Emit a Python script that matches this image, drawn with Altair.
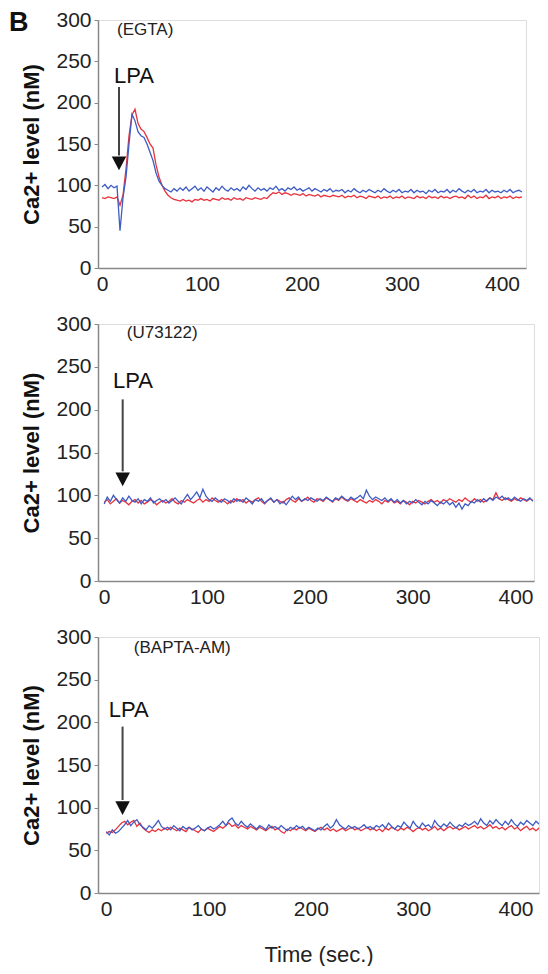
import altair as alt
import pandas as pd

STEP = 3  # seconds between samples

egta_red = [85,84,86,85,84,86,76,88,120,160,185,192,175,168,165,158,150,145,125,110,
            100,93,88,85,83,82,81,83,81,82,80,83,82,84,82,83,81,84,83,82,
            85,83,84,82,85,83,84,82,85,84,83,85,84,83,85,84,88,91,90,92,
            89,91,90,88,90,89,88,90,87,89,88,87,89,86,88,87,86,88,87,86,
            88,85,87,86,88,85,87,86,84,87,86,85,87,84,86,85,87,84,86,85,
            87,84,86,85,84,87,85,86,84,87,85,86,84,87,85,86,84,86,87,85,
            86,84,88,85,87,84,86,85,88,84,86,85,87,84,86,85,87,84,86,85,86]
egta_blue = [98,101,96,100,97,99,45,85,110,150,186,178,165,160,158,150,140,130,115,105,
             100,96,94,92,96,93,97,94,98,93,96,99,94,97,93,98,95,92,97,94,
             99,95,93,97,94,96,93,98,95,100,96,93,97,94,96,93,97,95,99,94,
             96,93,97,95,98,94,96,93,95,97,93,96,94,92,95,93,96,92,94,93,
             95,91,94,92,96,93,91,94,92,95,93,91,94,92,96,93,91,94,92,95,
             91,93,92,95,91,94,92,93,90,94,92,95,91,93,92,95,91,94,92,96,
             93,91,94,92,95,91,93,92,95,91,94,92,93,91,94,92,95,91,93,94,92]

u73_red = [92,95,90,93,96,91,94,92,89,93,
           95,91,94,90,92,95,93,89,92,94,
           91,93,96,92,90,94,92,95,93,91,
           94,96,92,95,93,97,94,92,95,93,
           90,94,92,96,93,95,91,94,92,95,
           97,93,90,94,96,92,95,93,91,95,
           97,94,92,96,93,95,98,94,92,96,
           95,93,97,95,92,96,94,98,95,93,
           96,94,92,95,93,91,94,92,95,93,
           90,94,92,95,91,93,90,94,92,89,
           93,91,94,92,90,93,95,92,94,91,
           95,93,96,94,92,95,93,97,94,92,
           96,93,95,92,94,97,95,103,96,94,
           97,95,93,96,94,97,95,93,96,94]
u73_blue = [90,98,93,100,95,91,97,93,99,94,
            92,96,90,95,93,97,91,94,96,92,
            95,91,94,97,93,90,96,101,95,99,
            104,97,107,99,95,93,97,94,92,96,
            94,91,96,93,95,92,97,94,90,95,
            93,96,91,94,97,92,95,90,93,89,
            94,99,95,98,93,96,94,97,95,93,
            96,94,98,95,93,97,95,99,96,94,
            98,95,97,100,96,106,99,95,98,96,
            94,97,93,96,92,95,91,94,90,93,
            91,95,92,89,93,90,94,91,88,92,
            90,93,89,92,86,91,84,90,88,93,
            91,95,92,96,93,97,94,98,96,99,
            95,97,94,98,95,93,96,94,97,93]

bapta_red = [70,72,71,74,78,82,84,80,83,85,
             78,82,76,73,71,74,72,75,73,76,
             74,77,75,73,76,74,72,77,75,73,
             71,75,73,76,74,72,75,78,76,79,
             82,78,80,76,79,77,75,78,76,74,
             77,75,73,76,78,74,76,72,70,75,
             73,76,74,77,75,73,76,74,72,75,
             77,74,76,73,75,72,74,76,73,75,
             77,74,76,73,75,77,74,76,73,75,
             72,76,74,77,75,73,76,74,77,75,
             72,75,77,74,76,73,75,78,74,76,
             73,76,78,75,77,74,76,78,75,77,
             79,76,78,75,77,80,76,78,75,77,
             74,77,79,75,77,73,76,78,74,76,
             73,76,74,77,75]
bapta_blue = [72,68,74,70,72,76,80,85,79,83,
              86,80,77,74,79,76,80,85,78,75,
              77,74,79,76,73,78,75,77,74,76,
              79,75,73,76,78,75,77,80,84,79,
              85,88,82,79,84,80,77,81,78,75,
              79,77,74,80,76,78,75,79,76,73,
              77,75,79,76,78,74,77,75,73,76,
              74,78,81,76,79,86,80,77,75,79,
              76,78,75,77,80,76,78,75,79,77,
              80,76,82,78,75,79,77,83,79,76,
              84,79,76,82,78,80,76,85,80,77,
              81,78,83,79,76,80,78,82,79,81,
              84,80,87,82,79,85,81,86,82,79,
              84,80,86,81,78,83,80,85,82,79,
              84,81,78,80,77]

treatments = ["(EGTA)", "(U73122)", "(BAPTA-AM)"]
name_x = [15, 22, 27]
name_y = [288, 289, 287]
lpa_x = [32, 28, 22]
lpa_y = [232, 233, 215]
arrow_x = [17, 18, 16]
arrow_top = [219, 212, 195]
arrow_bottom = [136, 128, 109]
head_y = [127, 119, 100]
x_min = [-4, -6, -8]
x_max = [424, 418, 423]
widths = [428, 436, 441]
heights = [248, 257, 256]

RED = "#e8323c"
BLUE = "#3d5cc4"
FONT = "Liberation Sans"


def panel(i, red, blue, last):
    red_df = pd.DataFrame({"t": [k * STEP for k in range(len(red))], "v": red})
    blue_df = pd.DataFrame({"t": [k * STEP for k in range(len(blue))], "v": blue})
    xenc = alt.X(
        "t:Q",
        scale=alt.Scale(domain=[x_min[i], x_max[i]], nice=False, zero=False),
        axis=alt.Axis(values=[0, 100, 200, 300, 400], ticks=False, grid=False,
                      labelFontSize=21, labelPadding=5, labelColor="#222",
                      labelFont=FONT, domainColor="#888", domainWidth=1.5,
                      titleFont=FONT, titleFontSize=22, titleFontWeight="normal",
                      titleColor="#222", titlePadding=25),
        title="Time (sec.)" if last else None,
    )
    yenc = alt.Y(
        "v:Q",
        scale=alt.Scale(domain=[0, 300], nice=False),
        axis=alt.Axis(values=[0, 50, 100, 150, 200, 250, 300], grid=False,
                      tickSize=4, tickColor="#888", domainColor="#888", domainWidth=1.5,
                      labelFontSize=21, labelPadding=3, labelColor="#222", labelFont=FONT,
                      titleFont=FONT, titleFontSize=22, titleFontWeight="bold",
                      titleColor="#111", titlePadding=12),
        title="Ca2+ level (nM)",
    )
    red_line = alt.Chart(red_df).mark_line(color=RED, strokeWidth=1.3, clip=True).encode(x=xenc, y=yenc)
    blue_line = alt.Chart(blue_df).mark_line(color=BLUE, strokeWidth=1.3, clip=True).encode(x="t:Q", y="v:Q")

    arr_df = pd.DataFrame({"t": [arrow_x[i]], "top": [arrow_top[i]], "bot": [arrow_bottom[i]], "head": [head_y[i]]})
    rule = alt.Chart(arr_df).mark_rule(color="#444", strokeWidth=2).encode(
        x="t:Q", y="top:Q", y2="bot:Q")
    head = alt.Chart(arr_df).mark_point(
        shape="M-1,-0.9L1,-0.9L0,1Z", filled=True, color="#111", size=210, opacity=1
    ).encode(x="t:Q", y="head:Q")

    lpa_df = pd.DataFrame({"t": [lpa_x[i]], "v": [lpa_y[i]], "label": ["LPA"]})
    lpa = alt.Chart(lpa_df).mark_text(font=FONT, fontSize=22, color="#111", align="center",
                                      baseline="middle").encode(x="t:Q", y="v:Q", text="label:N")
    name_df = pd.DataFrame({"t": [name_x[i]], "v": [name_y[i]], "label": [treatments[i]]})
    name = alt.Chart(name_df).mark_text(font=FONT, fontSize=17, color="#222", align="left",
                                        baseline="middle").encode(x="t:Q", y="v:Q", text="label:N")
    layers = [red_line, blue_line, rule, head, lpa, name]
    if i == 0:
        letter = alt.Chart(pd.DataFrame({"label": ["B"]})).mark_text(
            font=FONT, fontSize=27, fontWeight="bold", color="#111", align="left", baseline="top"
        ).encode(x=alt.value(-89), y=alt.value(-10), text="label:N")
        layers.append(letter)
    return alt.layer(*layers).properties(width=widths[i], height=heights[i])


chart = alt.vconcat(
    panel(0, egta_red, egta_blue, False),
    panel(1, u73_red, u73_blue, False),
    panel(2, bapta_red, bapta_blue, True),
    spacing=17,
).properties(
    padding={"left": 0, "top": 0, "right": 0, "bottom": 0}
).configure_view(stroke=None).configure(background="white")

chart.save("out.html", embed_options={"renderer": "svg", "actions": False})
